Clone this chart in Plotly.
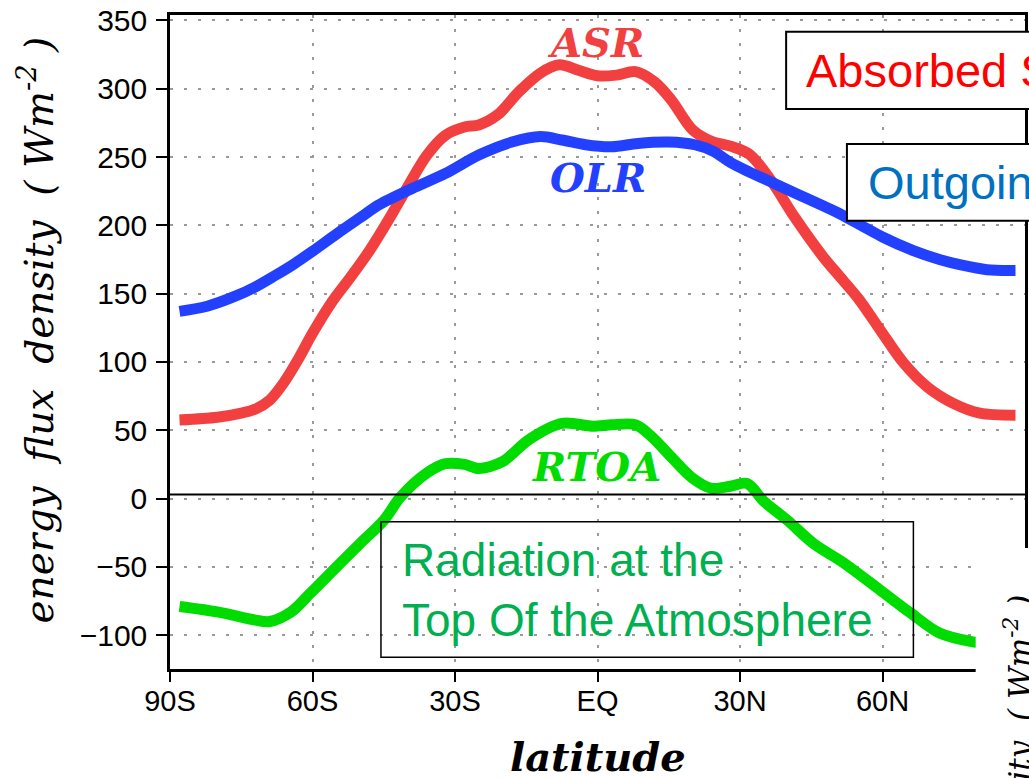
import plotly.graph_objects as go

# ---------------- data ----------------
ASR_LAT = [-88, -80, -75, -72, -69, -66, -63, -60, -56, -52, -48, -44, -40, -36, -32, -28, -25,
           -21, -16.5, -12, -8, -4, 0, 4, 8, 12, 15.5, 20, 24, 28, 32, 36.5, 41.5, 47.5,
           51, 55, 59.5, 64.5, 69.5, 75, 80.5, 88]
ASR_VAL = [57.5, 59.5, 62.5, 65.5, 72, 85, 102, 121, 143.5, 162, 181.5, 204, 228, 251, 266, 272, 273.5,
           281, 298, 311.5, 317.5, 313.5, 309.5, 310, 312.5, 305, 292, 270, 261.5, 258, 252, 233, 206, 177,
           162.5, 146, 123.5, 99, 81.5, 69.5, 62.5, 61]

OLR_LAT = [-88, -82, -76, -72, -68, -64, -60, -55, -50, -46, -39, -32, -25, -18, -12, -7.5,
           -2.5, 3, 8.5, 15, 20.5, 24.5, 28, 32, 37, 42, 47, 51, 56, 60, 66.5, 72, 76.5, 82, 88]
OLR_VAL = [137, 141, 148.5, 155, 163, 171.5, 181, 193.5, 205.5, 215, 227, 238, 251.5, 261, 265, 262.5,
           259, 257.5, 260, 261, 259, 254, 246, 239, 231, 223, 215, 208.5, 199, 191.5, 181.5, 175, 171, 167.5, 167]

RTOA_LAT = [-88, -80, -72, -69, -64.5, -60.5, -55.5, -50, -45, -41.5, -36, -32, -28, -25, -20,
            -14.5, -7.5, -1, 3, 8, 11.5, 15.5, 20, 24, 28, 31.5, 35, 40, 45.5, 52, 59.5, 66, 72,
            79, 84, 88]
RTOA_VAL = [-79, -83, -89, -90, -83, -69.5, -52, -33, -16, 1, 18.5, 25.5, 25, 22, 27,
            43, 55, 53, 54, 54, 45, 30.5, 15, 7.5, 9, 11, -2, -16, -33, -47.5, -67, -84, -98.5,
            -105, -107, -108]

X_TICK_VALS = [-90, -60, -30, 0, 30, 60]
X_TICK_TEXT = ["90S", "60S", "30S", "EQ", "30N", "60N"]
Y_TICK_VALS = [-100, -50, 0, 50, 100, 150, 200, 250, 300, 350]
REF_LINE_Y = 2.9

# ---------------- layout helpers ----------------
W, H = 1029, 778
ML, MR, MT, MB = 170, 1, 15, 109
PW, PH = W - ML - MR, H - MT - MB


def px(X):
    return (X - ML) / PW


def py(Y):
    return (H - MB - Y) / PH


RED = "#F24040"
BLUE = "#2340FF"
GREEN = "#00DC00"
NB = "\u00a0"

fig = go.Figure()
fig.add_trace(go.Scatter(x=ASR_LAT, y=ASR_VAL, mode="lines",
                         line=dict(color=RED, width=11, shape="spline", smoothing=0.9)))
fig.add_trace(go.Scatter(x=OLR_LAT, y=OLR_VAL, mode="lines",
                         line=dict(color=BLUE, width=11, shape="spline", smoothing=0.9)))
fig.add_trace(go.Scatter(x=RTOA_LAT, y=RTOA_VAL, mode="lines",
                         line=dict(color=GREEN, width=11, shape="spline", smoothing=0.9)))

serif_b = dict(family="DejaVu Serif", style="italic", weight="bold")
serif_n = dict(family="DejaVu Serif", style="italic", weight="normal")

ytitle = f"energy{NB}{NB}flux{NB}{NB}density{NB}{NB}({NB}Wm<sup>-2</sup>{NB})"

annotations = [
    dict(text="ASR", x=px(597), y=py(42.5), font=dict(size=40, color=RED, **serif_b)),
    dict(text="OLR", x=px(599), y=py(177.5), font=dict(size=40, color=BLUE, **serif_b)),
    dict(text="RTOA", x=px(597.5), y=py(466), font=dict(size=40, color=GREEN, **serif_b)),
    dict(text=ytitle, x=px(36), y=py(330), textangle=-90,
         font=dict(size=39, color="black", **serif_n)),
    dict(text="latitude", x=px(599), y=py(756), font=dict(size=40, color="black", **serif_b)),
    dict(text="Absorbed Solar Radiation", x=px(806), y=py(70.8), xanchor="left",
         font=dict(family="Liberation Sans", size=47, color="#FF0000")),
    dict(text="Outgoing Longwave Radiation", x=px(868), y=py(182.5), xanchor="left",
         font=dict(family="Liberation Sans", size=47, color="#0070C0")),
    dict(text="Radiation at the<br>Top Of the Atmosphere", x=px(401), y=py(589.8), xanchor="left",
         align="left", font=dict(family="Liberation Sans", size=46, color="#00B050")),
    dict(text=ytitle, x=px(1021), y=py(828), textangle=-90,
         font=dict(size=31, color="black", **serif_n)),
]
for a in annotations:
    a.setdefault("xanchor", "center")
    a.setdefault("yanchor", "middle")
    a.update(xref="paper", yref="paper", showarrow=False)

shapes = [
    # reference line near zero
    dict(type="line", xref="paper", yref="y", x0=0, x1=1, y0=REF_LINE_Y, y1=REF_LINE_Y,
         line=dict(color="black", width=2), layer="above"),
    # Absorbed box
    dict(type="rect", xref="paper", yref="paper", x0=px(788.3), x1=px(1200), y0=py(109), y1=py(31.7),
         line=dict(color="black", width=2), fillcolor="white", layer="above"),
    # Outgoing box
    dict(type="rect", xref="paper", yref="paper", x0=px(849.3), x1=px(1200), y0=py(220.7), y1=py(144),
         line=dict(color="black", width=2), fillcolor="white", layer="above"),
    # RTOA box
    dict(type="rect", xref="paper", yref="paper", x0=px(381.7), x1=px(916), y0=py(657.3), y1=py(521.7),
         line=dict(color="black", width=1.5), fillcolor="rgba(0,0,0,0)", layer="above"),
    # neighbouring panel (white) at bottom right
    dict(type="rect", xref="paper", yref="paper", x0=px(978.5), x1=px(1100), y0=py(900), y1=py(548),
         line=dict(width=0), fillcolor="white", layer="above"),
]

fig.update_layout(
    width=W, height=H,
    margin=dict(l=ML, r=MR, t=MT, b=MB, pad=0),
    paper_bgcolor="white", plot_bgcolor="white",
    showlegend=False,
    font=dict(family="Liberation Sans", size=30, color="black"),
    annotations=annotations,
    shapes=shapes,
)
fig.update_xaxes(
    range=[-90, 90], tickvals=X_TICK_VALS, ticktext=X_TICK_TEXT,
    showline=True, linecolor="black", linewidth=3, mirror=True,
    ticks="outside", ticklen=10, tickwidth=2, tickcolor="black",
    showgrid=True, gridcolor="#9a9a9a", gridwidth=1.5, griddash="3px,11px",
    zeroline=False, ticklabelstandoff=-6,
    tickfont=dict(family="Liberation Sans", size=29, color="black"),
)
fig.update_yaxes(
    range=[-124.8, 354.0], tickvals=Y_TICK_VALS,
    showline=True, linecolor="black", linewidth=2.5, mirror=True,
    ticks="outside", ticklen=11, tickwidth=2, tickcolor="black",
    showgrid=True, gridcolor="#9a9a9a", gridwidth=1.5, griddash="3px,11px",
    zeroline=False, ticklabelstandoff=3,
    tickfont=dict(family="Liberation Sans", size=30, color="black"),
)

fig.write_html("out.html", post_script="document.body.style.overflow='hidden';document.body.style.margin='0';")
